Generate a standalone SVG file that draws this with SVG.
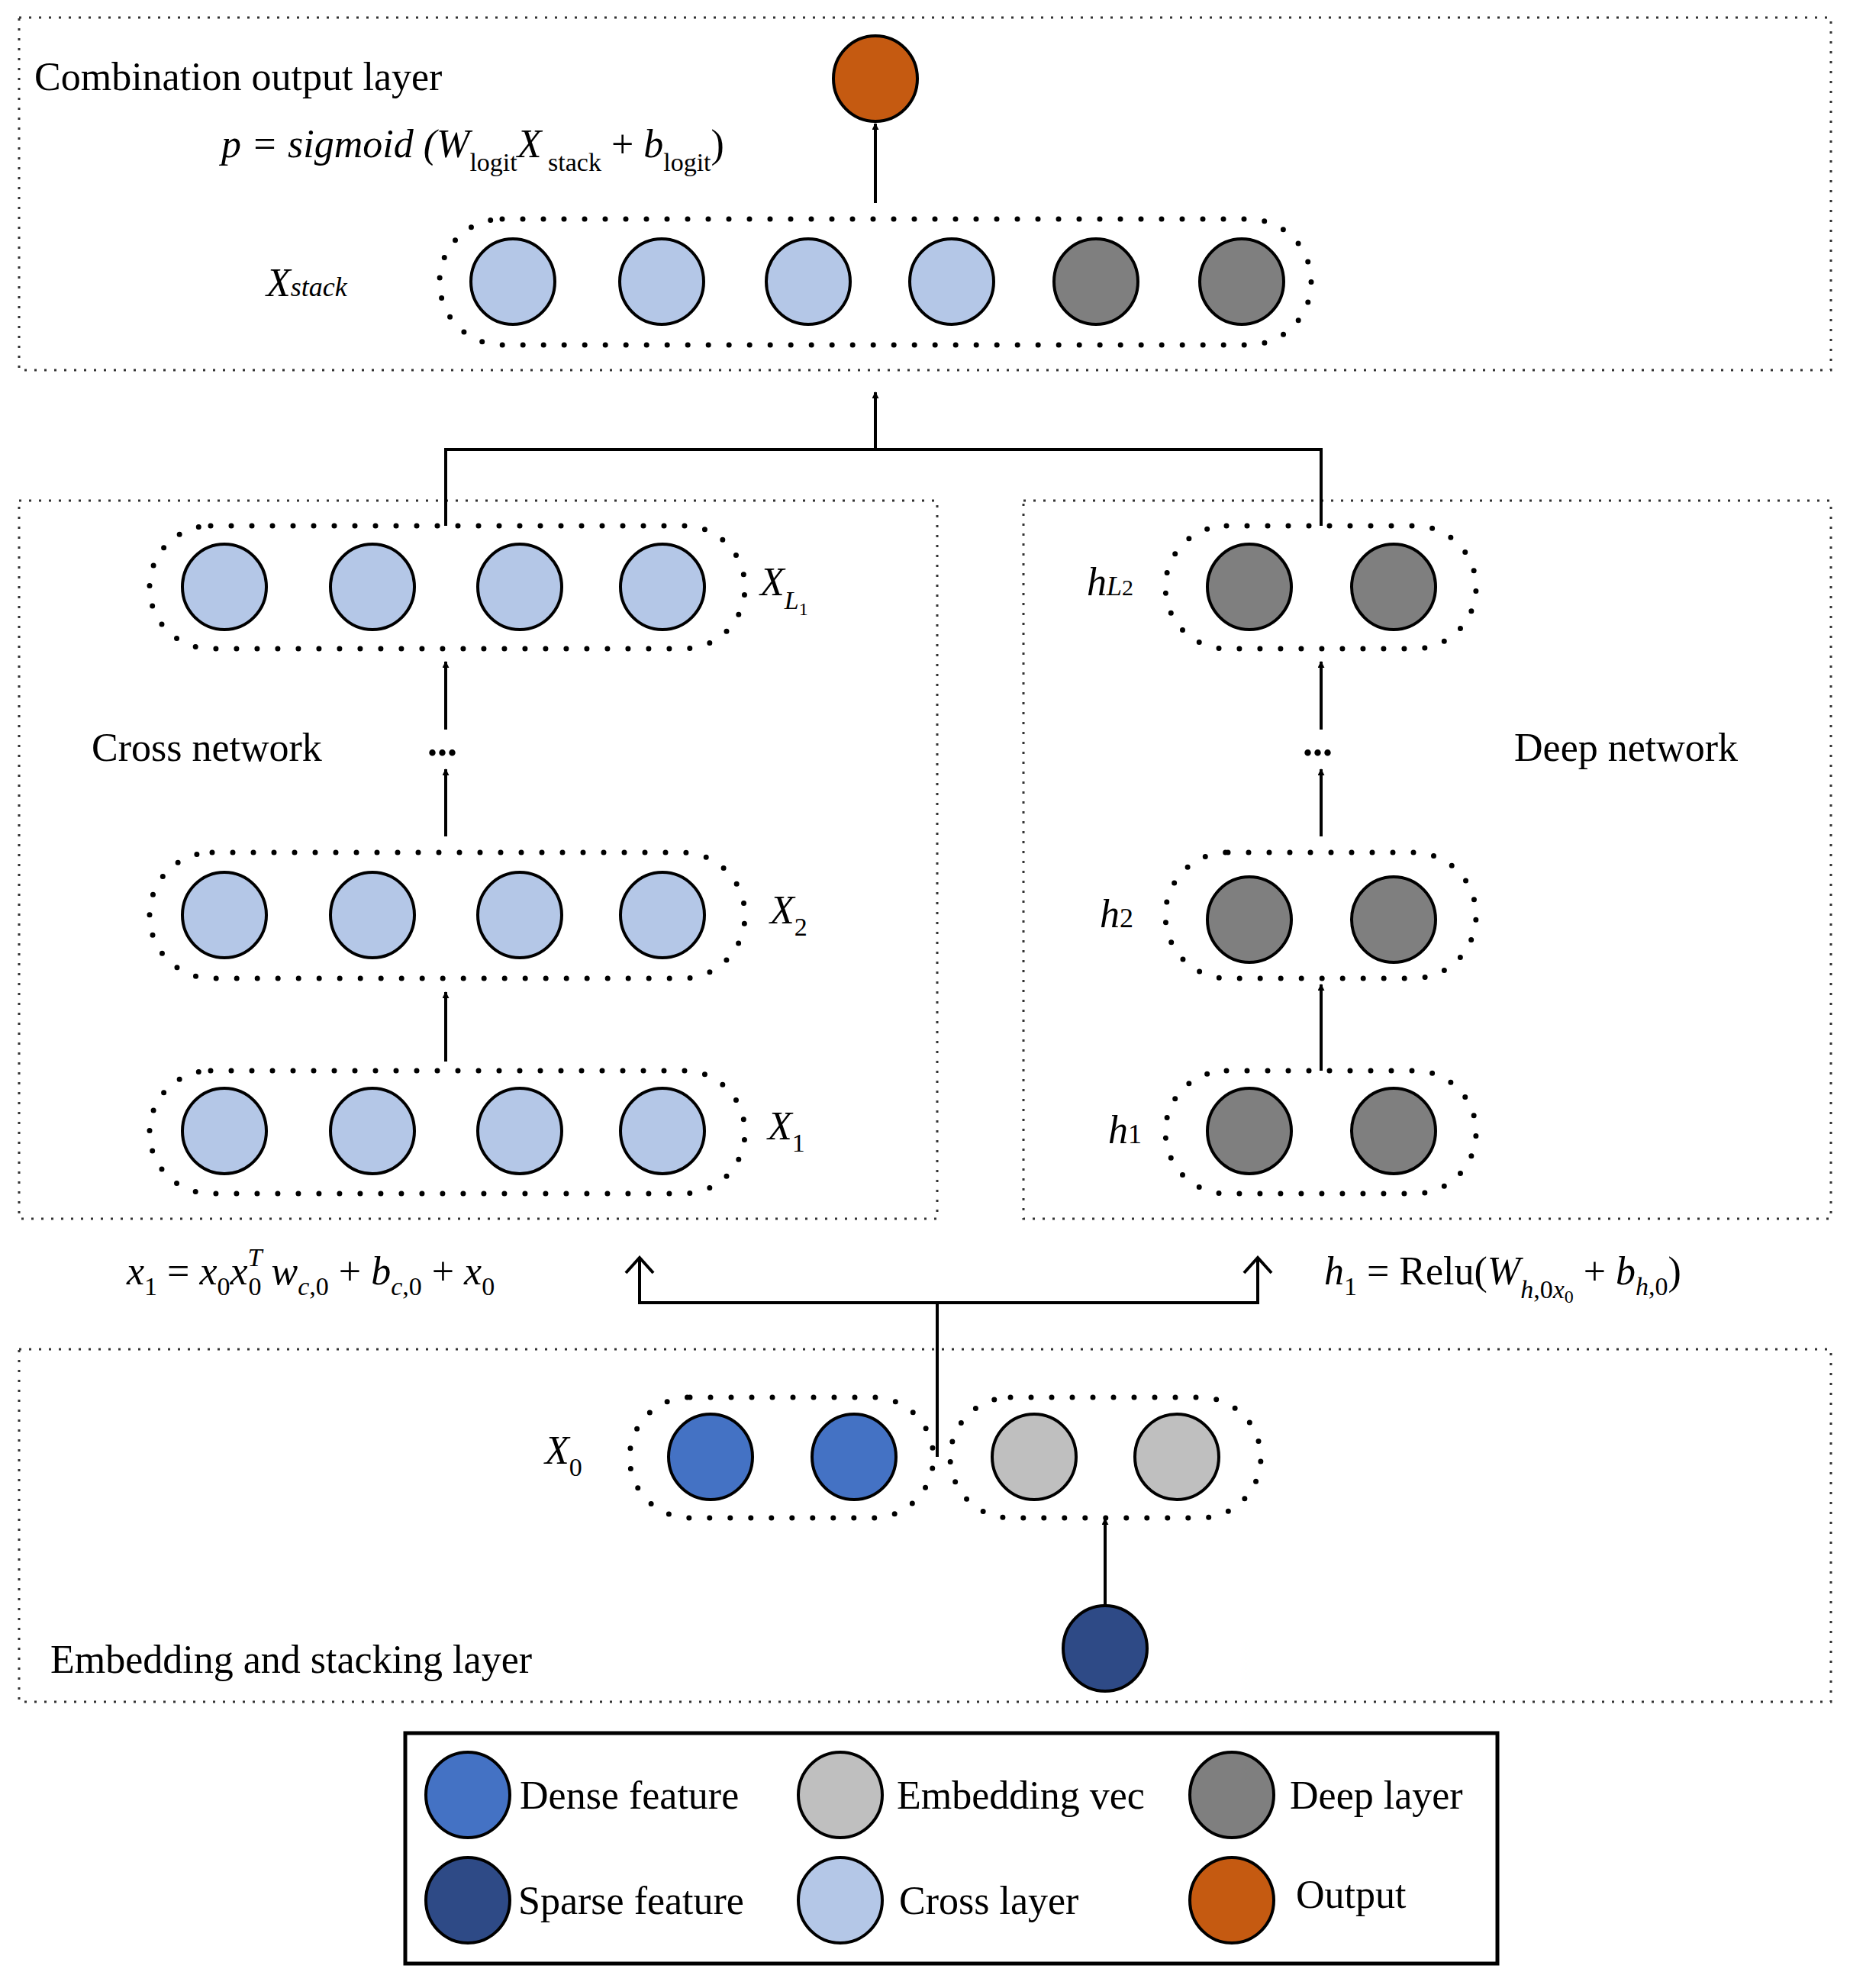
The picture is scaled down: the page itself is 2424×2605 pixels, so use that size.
<svg xmlns="http://www.w3.org/2000/svg" width="2424" height="2605" viewBox="0 0 2424 2605">
<style>
text{font-family:"Liberation Serif","Times New Roman",serif;font-size:52px;fill:#000}
.i{font-style:italic}
.s{font-size:34px}
.box{fill:none;stroke:#333;stroke-width:3;stroke-dasharray:3 10}
.pill{fill:none;stroke:#000;stroke-width:7;stroke-linecap:round;stroke-dasharray:0 27}
.n{stroke:#000;stroke-width:4}
.c{fill:#b4c7e7}.d{fill:#7f7f7f}.e{fill:#bfbfbf}.de{fill:#4472c4}.sp{fill:#2e4a86}.o{fill:#c55a11}
.ln{fill:none;stroke:#000;stroke-width:4}
</style>
<defs>
<marker id="a" viewBox="0 0 10 10" refX="9" refY="5" markerWidth="9" markerHeight="9" markerUnits="userSpaceOnUse" orient="auto"><path d="M0,0L10,5L0,10z"/></marker>
<marker id="ah" viewBox="0 0 10 10" refX="9" refY="5" markerWidth="10" markerHeight="10" orient="auto" markerUnits="userSpaceOnUse"/>
<marker id="op" viewBox="0 0 10 10" refX="0" refY="5" markerWidth="30" markerHeight="30" markerUnits="userSpaceOnUse" orient="auto"><path d="M-10,-6L0,5L-10,16" fill="none" stroke="#000" stroke-width="1.2" transform="translate(10,0) scale(0.5) translate(0,5)"/></marker>
</defs>
<g id="combination">
<rect class="box" x="25" y="23" width="2374" height="462"/>
<text x="45" y="118">Combination output layer</text>
<text x="290" y="206" class="i" font-size="60">p = sigmoid (W<tspan class="s" font-style="normal" dy="18">logit</tspan><tspan dy="-18">X</tspan><tspan class="s" font-style="normal" dy="18"> stack</tspan><tspan dy="-18" font-style="normal"> + </tspan><tspan>b</tspan><tspan class="s" font-style="normal" dy="18">logit</tspan><tspan dy="-18" font-style="normal">)</tspan></text>
<ellipse class="n o" cx="1147" cy="103" rx="55" ry="56"/>
<text x="349" y="388" class="i" font-size="56">X<tspan font-size="36">stack</tspan></text>
<rect class="pill" x="576" y="287" width="1142" height="165" rx="82"/>
<ellipse class="n c" cx="672" cy="369" rx="55" ry="56"/>
<ellipse class="n c" cx="867" cy="369" rx="55" ry="56"/>
<ellipse class="n c" cx="1059" cy="369" rx="55" ry="56"/>
<ellipse class="n c" cx="1247" cy="369" rx="55" ry="56"/>
<ellipse class="n d" cx="1436" cy="369" rx="55" ry="56"/>
<ellipse class="n d" cx="1627" cy="369" rx="55" ry="56"/>
</g>
<g id="cross">
<rect class="box" x="25" y="656" width="1203" height="941"/>
<text x="120" y="997">Cross network</text>
<text x="560" y="990" font-weight="bold" font-size="44">...</text>
<rect class="pill" x="196" y="689" width="780" height="161" rx="80"/>
<rect class="pill" x="196" y="1117" width="780" height="165" rx="82"/>
<rect class="pill" x="196" y="1403" width="780" height="161" rx="80"/>
<g class="c">
<ellipse class="n" cx="294" cy="769" rx="55" ry="56"/><ellipse class="n" cx="488" cy="769" rx="55" ry="56"/><ellipse class="n" cx="681" cy="769" rx="55" ry="56"/><ellipse class="n" cx="868" cy="769" rx="55" ry="56"/>
<ellipse class="n" cx="294" cy="1199" rx="55" ry="56"/><ellipse class="n" cx="488" cy="1199" rx="55" ry="56"/><ellipse class="n" cx="681" cy="1199" rx="55" ry="56"/><ellipse class="n" cx="868" cy="1199" rx="55" ry="56"/>
<ellipse class="n" cx="294" cy="1482" rx="55" ry="56"/><ellipse class="n" cx="488" cy="1482" rx="55" ry="56"/><ellipse class="n" cx="681" cy="1482" rx="55" ry="56"/><ellipse class="n" cx="868" cy="1482" rx="55" ry="56"/>
</g>
<text x="996" y="780" class="i" font-size="56">X<tspan font-size="34" dy="18">L</tspan><tspan font-size="24" font-style="normal" dy="8">1</tspan></text>
<text x="1009" y="1210" class="i" font-size="56">X<tspan font-size="34" font-style="normal" dy="16">2</tspan></text>
<text x="1006" y="1493" class="i" font-size="56">X<tspan font-size="34" font-style="normal" dy="16">1</tspan></text>
</g>
<g id="deep">
<rect class="box" x="1341" y="656" width="1058" height="941"/>
<text x="1984" y="997">Deep network</text>
<text x="1707" y="990" font-weight="bold" font-size="44">...</text>
<rect class="pill" x="1527" y="689" width="407" height="161" rx="80"/>
<rect class="pill" x="1527" y="1117" width="407" height="165" rx="82"/>
<rect class="pill" x="1527" y="1403" width="407" height="161" rx="80"/>
<g class="d">
<ellipse class="n" cx="1637" cy="769" rx="55" ry="56"/><ellipse class="n" cx="1826" cy="769" rx="55" ry="56"/>
<ellipse class="n" cx="1637" cy="1205" rx="55" ry="56"/><ellipse class="n" cx="1826" cy="1205" rx="55" ry="56"/>
<ellipse class="n" cx="1637" cy="1482" rx="55" ry="56"/><ellipse class="n" cx="1826" cy="1482" rx="55" ry="56"/>
</g>
<text x="1424" y="780" class="i" font-size="56">h<tspan font-size="36">L</tspan><tspan font-size="30" font-style="normal">2</tspan></text>
<text x="1441" y="1215" class="i" font-size="56">h<tspan font-size="36" font-style="normal">2</tspan></text>
<text x="1452" y="1498" class="i" font-size="56">h<tspan font-size="36" font-style="normal">1</tspan></text>
</g>
<g id="formulas">
<text x="166" y="1683" class="i" font-size="56">x<tspan class="s" font-style="normal" dy="14">1</tspan><tspan dy="-14" font-style="normal"> = </tspan>x<tspan class="s" font-style="normal" dy="14">0</tspan><tspan dy="-14">x</tspan><tspan class="s" dy="-24">T</tspan><tspan class="s" font-style="normal" dx="-18" dy="38">0</tspan><tspan dy="-14"> w</tspan><tspan class="s" dy="14">c</tspan><tspan class="s" font-style="normal">,0</tspan><tspan dy="-14" font-style="normal"> + </tspan>b<tspan class="s" dy="14">c</tspan><tspan class="s" font-style="normal">,0</tspan><tspan dy="-14" font-style="normal"> + </tspan>x<tspan class="s" font-style="normal" dy="14">0</tspan></text>
<text x="1735" y="1683" font-size="60"><tspan class="i">h</tspan><tspan class="s" dy="14">1</tspan><tspan dy="-14"> = Relu(</tspan><tspan class="i">W</tspan><tspan class="s i" dy="18">h</tspan><tspan class="s" dy="0">,0</tspan><tspan class="s i">x</tspan><tspan font-size="24" dy="6">0</tspan><tspan dy="-24"> + </tspan><tspan class="i">b</tspan><tspan class="s i" dy="14">h</tspan><tspan class="s">,0</tspan><tspan dy="-14">)</tspan></text>
</g>
<g id="embedding">
<rect class="box" x="25" y="1768" width="2374" height="462"/>
<text x="66" y="2192">Embedding and stacking layer</text>
<text x="714" y="1918" class="i" font-size="56">X<tspan font-size="34" font-style="normal" dy="16">0</tspan></text>
<rect class="pill" x="825" y="1831" width="398" height="158" rx="79"/>
<rect class="pill" x="1245" y="1831" width="407" height="158" rx="79"/>
<ellipse class="n de" cx="931" cy="1909" rx="55" ry="56"/>
<ellipse class="n de" cx="1119" cy="1909" rx="55" ry="56"/>
<ellipse class="n e" cx="1355" cy="1909" rx="55" ry="56"/>
<ellipse class="n e" cx="1542" cy="1909" rx="55" ry="56"/>
<ellipse class="n sp" cx="1448" cy="2160" rx="55" ry="56"/>
</g>
<g id="connectors">
<line class="ln" x1="1147" y1="266" x2="1147" y2="162" marker-end="url(#a)"/>
<path class="ln" d="M584,689V589H1731V689"/>
<line class="ln" x1="1147" y1="589" x2="1147" y2="514" marker-end="url(#a)"/>
<line class="ln" x1="584" y1="956" x2="584" y2="867" marker-end="url(#a)"/>
<line class="ln" x1="584" y1="1096" x2="584" y2="1008" marker-end="url(#a)"/>
<line class="ln" x1="584" y1="1391" x2="584" y2="1300" marker-end="url(#a)"/>
<line class="ln" x1="1731" y1="956" x2="1731" y2="867" marker-end="url(#a)"/>
<line class="ln" x1="1731" y1="1096" x2="1731" y2="1008" marker-end="url(#a)"/>
<line class="ln" x1="1731" y1="1403" x2="1731" y2="1290" marker-end="url(#a)"/>
<path class="ln" d="M838,1648V1707H1648V1648"/>
<path class="ln" d="M820,1668L838,1648L856,1668M1630,1668L1648,1648L1666,1668"/>
<line class="ln" x1="1228" y1="1707" x2="1228" y2="1909"/>
<line class="ln" x1="1448" y1="2104" x2="1448" y2="1990" marker-end="url(#a)"/>
</g>
<g id="legend">
<rect x="531" y="2271" width="1431" height="302" fill="none" stroke="#000" stroke-width="5"/>
<ellipse class="n de" cx="613" cy="2352" rx="55" ry="56"/>
<ellipse class="n e" cx="1101" cy="2352" rx="55" ry="56"/>
<ellipse class="n d" cx="1614" cy="2352" rx="55" ry="56"/>
<ellipse class="n sp" cx="613" cy="2490" rx="55" ry="56"/>
<ellipse class="n c" cx="1101" cy="2490" rx="55" ry="56"/>
<ellipse class="n o" cx="1614" cy="2490" rx="55" ry="56"/>
<text x="681" y="2370">Dense feature</text>
<text x="1175" y="2370">Embedding vec</text>
<text x="1690" y="2370">Deep layer</text>
<text x="679" y="2508">Sparse feature</text>
<text x="1178" y="2508">Cross layer</text>
<text x="1698" y="2500">Output</text>
</g>
</svg>
